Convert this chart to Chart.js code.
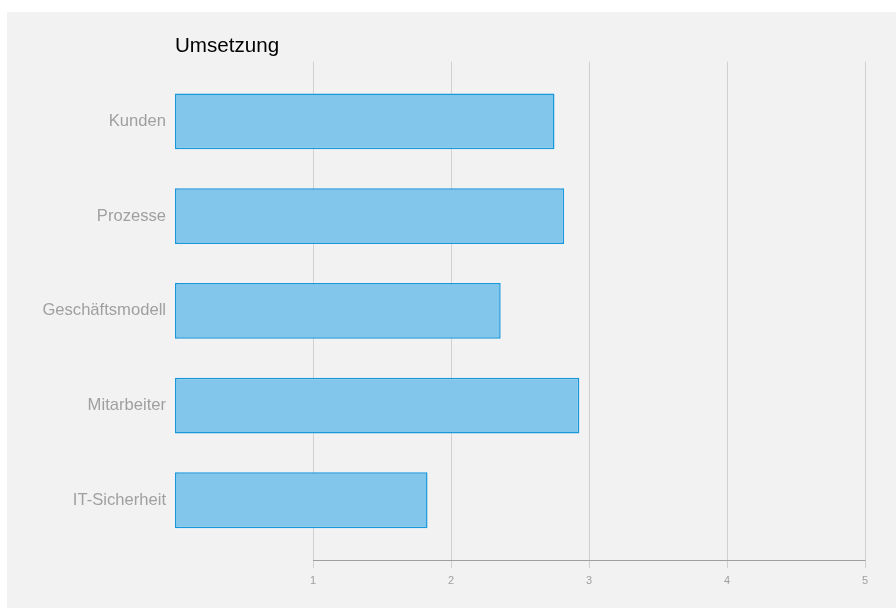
<!DOCTYPE html>
<html>
<head>
<meta charset="utf-8">
<script src="https://cdn.jsdelivr.net/npm/chart.js@4/dist/chart.umd.min.js"></script>
<style>
    body { margin: 0; background: #fff; }
    #box { position: absolute; left: 7px; top: 12px; width: 889px; height: 596px; background: #f2f2f2; }
</style>
</head>
<body>
<div id="box"><canvas id="BarChart"></canvas></div>
<script>
var categories = ["Kunden", "Prozesse", "Geschäftsmodell", "Mitarbeiter", "IT-Sicherheit"];
var values = [2.75, 2.82, 2.36, 2.93, 1.83];
var xTicks = [1, 2, 3, 4, 5];

// axis line only between the first and last tick
var axisLine = {
    id: 'axisLine',
    beforeDatasetsDraw: function (chart) {
        var x = chart.scales.x;
        var ctx = chart.ctx;
        ctx.save();
        ctx.strokeStyle = '#9e9e9e';
        ctx.lineWidth = 1;
        ctx.beginPath();
        ctx.moveTo(x.getPixelForValue(xTicks[0]), chart.chartArea.bottom + 0.5);
        ctx.lineTo(x.getPixelForValue(xTicks[xTicks.length - 1]) + 0.5, chart.chartArea.bottom + 0.5);
        ctx.stroke();
        ctx.restore();
    }
};

var ctx = document.getElementById('BarChart');
var chart = new Chart(ctx, {
    type: 'bar',
    data: {
        datasets: [{
            label: "Umsetzung",
            data: values.map(function (v, i) { return { x: v, y: i }; }),
            backgroundColor: '#82c7eb',
            borderColor: '#1897dc',
            borderWidth: 1.5,
            borderSkipped: false,
            barPercentage: 0.59,
            categoryPercentage: 1
        }]
    },
    options: {
        indexAxis: 'y',
        responsive: true,
        maintainAspectRatio: false,
        animation: false,
        layout: {
            padding: { left: 0, right: 31, top: 0, bottom: 0 }
        },
        plugins: {
            legend: { display: false },
            title: {
                display: true,
                text: 'Umsetzung',
                align: 'start',
                fullSize: false,
                color: '#000',
                font: { family: 'Liberation Sans, Arial, sans-serif', size: 20.6, weight: 'normal', lineHeight: 1.2 },
                padding: { top: 22, bottom: 3 }
            }
        },
        scales: {
            x: {
                type: 'linear',
                min: 0,
                max: 5,
                afterBuildTicks: function (scale) {
                    scale.ticks = xTicks.map(function (v) { return { value: v }; });
                },
                afterFit: function (scale) { scale.height = 48; },
                border: { display: false },
                grid: { color: '#d0d0d0', tickLength: 8 },
                ticks: {
                    color: '#a0a0a0',
                    padding: 6,
                    maxRotation: 0,
                    font: { family: 'Liberation Sans, Arial, sans-serif', size: 11 }
                }
            },
            y: {
                type: 'linear',
                reverse: true,
                offset: false,
                min: -0.63,
                max: 4.63,
                afterBuildTicks: function (scale) {
                    scale.ticks = categories.map(function (c, i) { return { value: i }; });
                },
                afterFit: function (scale) { scale.width = 168; },
                border: { display: false },
                grid: { display: false, drawTicks: false, offset: false },
                ticks: {
                    color: '#a0a0a0',
                    padding: 9,
                    font: { family: 'Liberation Sans, Arial, sans-serif', size: 16.6 },
                    callback: function (v) { return categories[v]; }
                }
            }
        }
    },
    plugins: [axisLine]
});
</script>
</body>
</html>
